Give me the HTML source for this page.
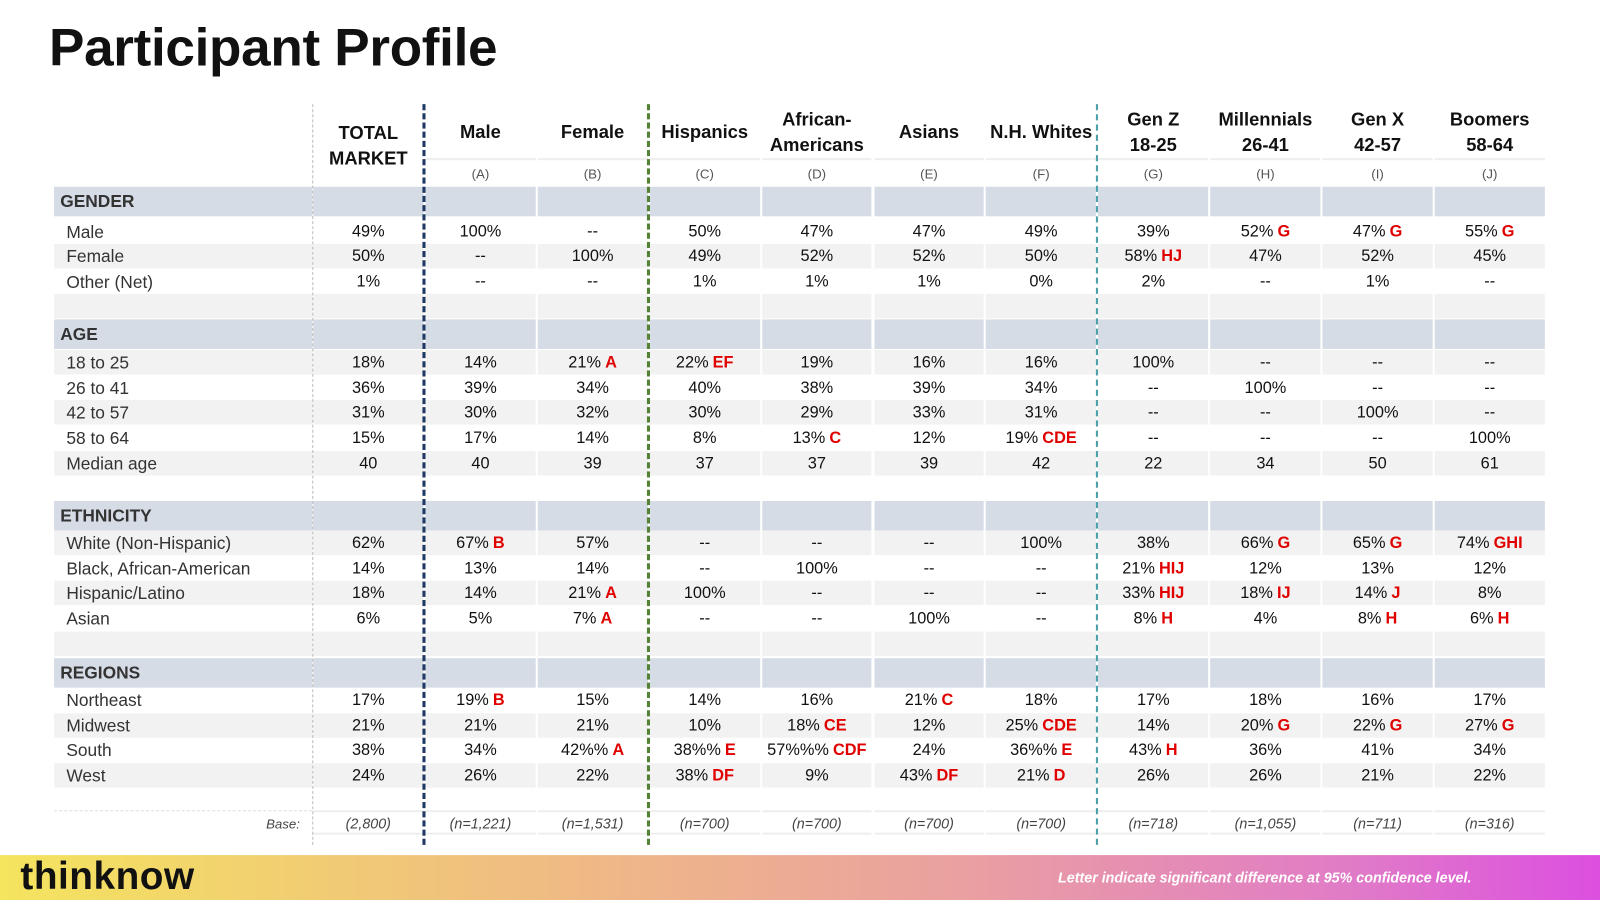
<!DOCTYPE html>
<html><head><meta charset="utf-8">
<style>
html,body{margin:0;padding:0;background:#fff;width:1600px;height:900px;overflow:hidden}
#wrap{position:absolute;left:0;top:0;width:1568px;height:882px;transform:scale(1.0204);transform-origin:0 0;font-family:"Liberation Sans",sans-serif;color:#111}
.c{position:absolute;display:flex;align-items:center;justify-content:center;font-size:16px;white-space:nowrap;box-sizing:border-box;padding-top:2px}
.sig{color:#e00000;font-weight:bold;margin-left:4px}
.vl{position:absolute;width:0}
</style></head><body>
<div id="wrap">
<div style="position:absolute;left:48px;top:17px;font-size:52px;font-weight:bold;letter-spacing:-0.3px">Participant Profile</div>
<div id="tbl"></div>
<div style="position:absolute;left:0;top:838px;width:1568px;height:44px;background:linear-gradient(90deg,#f4e45e 0%,#f0c07e 30%,#eaa0a0 60%,#e07ac8 85%,#dc4fe0 100%)">
<div style="position:absolute;left:20px;top:0px;font-size:38px;font-weight:bold;color:#111;letter-spacing:0.5px">thinknow</div>
<div style="position:absolute;right:126px;top:14px;font-size:14px;font-weight:bold;font-style:italic;color:#fff">Letter indicate significant difference at 95% confidence level.</div>
</div>
</div>
<script>
const colHeads=["TOTAL MARKET","Male","Female","Hispanics","African-Americans","Asians","N.H. Whites","Gen Z 18-25","Millennials 26-41","Gen X 42-57","Boomers 58-64"];
const colHeadHtml=["TOTAL<br>MARKET","Male","Female","Hispanics","African-<br>Americans","Asians","N.H. Whites","Gen Z<br>18-25","Millennials<br>26-41","Gen X<br>42-57","Boomers<br>58-64"];
const colLetters=["","(A)","(B)","(C)","(D)","(E)","(F)","(G)","(H)","(I)","(J)"];
const rows=[
["band","GENDER",null,197,0],
["row","Male",["49%","100%","--","50%","47%","47%","49%","39%","52%|G","47%|G","55%|G"],227,0],
["row","Female",["50%","--","100%","49%","52%","52%","50%","58%|HJ","47%","52%","45%"],251,1],
["row","Other (Net)",["1%","--","--","1%","1%","1%","0%","2%","--","1%","--"],276,0],
["blank","",null,300,1],
["band","AGE",null,327,0],
["row","18 to 25",["18%","14%","21%|A","22%|EF","19%","16%","16%","100%","--","--","--"],355,1],
["row","26 to 41",["36%","39%","34%","40%","38%","39%","34%","--","100%","--","--"],380,0],
["row","42 to 57",["31%","30%","32%","30%","29%","33%","31%","--","--","100%","--"],404,1],
["row","58 to 64",["15%","17%","14%","8%","13%|C","12%","19%|CDE","--","--","--","100%"],429,0],
["row","Median age",["40","40","39","37","37","39","42","22","34","50","61"],454,1],
["blank","",null,478,0],
["band","ETHNICITY",null,505,0],
["row","White (Non-Hispanic)",["62%","67%|B","57%","--","--","--","100%","38%","66%|G","65%|G","74%|GHI"],532,1],
["row","Black, African-American",["14%","13%","14%","--","100%","--","--","21%|HIJ","12%","13%","12%"],557,0],
["row","Hispanic/Latino",["18%","14%","21%|A","100%","--","--","--","33%|HIJ","18%|IJ","14%|J","8%"],581,1],
["row","Asian",["6%","5%","7%|A","--","--","100%","--","8%|H","4%","8%|H","6%|H"],606,0],
["blank","",null,631,1],
["band","REGIONS",null,659,0],
["row","Northeast",["17%","19%|B","15%","14%","16%","21%|C","18%","17%","18%","16%","17%"],686,0],
["row","Midwest",["21%","21%","21%","10%","18%|CE","12%","25%|CDE","14%","20%|G","22%|G","27%|G"],711,1],
["row","South",["38%","34%","42%%|A","38%%|E","57%%%|CDF","24%","36%%|E","43%|H","36%","41%","34%"],735,0],
["row","West",["24%","26%","22%","38%|DF","9%","43%|DF","21%|D","26%","26%","21%","22%"],760,1],
["blank","",null,784,0],
];
const bases=["(2,800)","(n=1,221)","(n=1,531)","(n=700)","(n=700)","(n=700)","(n=700)","(n=718)","(n=1,055)","(n=711)","(n=316)"];
const T=document.getElementById('tbl');
const L0=53,LW=253,CW=109.9,RH=24.6;
function colX(i){return L0+LW+i*CW;}
function mk(x,y,w,h,bg){const d=document.createElement('div');d.className='c';d.style.left=x+'px';d.style.top=y+'px';d.style.width=w+'px';d.style.height=h+'px';if(bg)d.style.background=bg;T.appendChild(d);return d;}
colHeads.forEach((h,i)=>{
 const d=mk(colX(i)+1,102,CW-2,i==0?80:53,null);
 
 
 d.style.fontWeight='bold';d.style.fontSize='18px';d.style.textAlign='center';d.style.lineHeight='25px';
 d.innerHTML=colHeadHtml[i];
 if(i>0){const l=mk(colX(i)+1,155,CW-2,27,null);
 
 
 l.style.fontSize='13px';l.style.color='#555';l.style.borderTop='2px solid #eee';l.textContent=colLetters[i];}
});
rows.forEach(r=>{
 const [type,label,vals,yc,gray]=r;
 const h=type=="band"?29:RH;const y=yc-h/2;
 const bg=type=="band"?"#d6dce5":(gray?"#f2f2f2":"#fff");
 const lab=mk(L0,y,LW,h,bg);
 
 
 lab.style.justifyContent='flex-start';lab.style.paddingLeft=(type=="band"?6:12)+'px';
 if(type=="band"){lab.style.fontWeight='bold';lab.style.fontSize='17px';}
 else lab.style.fontSize='17px';
 lab.style.color='#333';lab.textContent=label;
 for(let i=0;i<11;i++){
  const c=mk(colX(i)+1,y,CW-2,h,bg);
  
  
  if(vals){const [v,s]=vals[i].split('|');c.textContent=v;if(s){const sp=document.createElement('span');sp.className='sig';sp.textContent=s;c.appendChild(sp);}}
 }
});
const bl=mk(L0,794,LW,24,null);


bl.style.justifyContent='flex-end';bl.style.paddingRight='12px';bl.style.fontStyle='italic';bl.style.fontSize='13px';bl.style.color='#444';bl.textContent='Base:';
bl.style.borderTop='1px dashed #ddd';
bases.forEach((b,i)=>{const c=mk(colX(i)+1,794,CW-2,24,null);
 
 
 c.style.fontStyle='italic';c.style.fontSize='14px';c.style.color='#444';c.style.borderTop='2px solid #eee';c.style.borderBottom='2px solid #eee';c.textContent=b;});
const divs=[[0,'#bbb',1,102],[1,'#1f3864',3,102],[3,'#548235',3,102],[7,'#4aa0a8',2,102]];
divs.forEach(([i,col,w,top])=>{const v=document.createElement('div');v.className='vl';
 
 
 v.style.left=(colX(i)-w/2)+'px';v.style.top=top+'px';v.style.height=(828-top)+'px';v.style.borderLeft=w+'px dashed '+col;T.appendChild(v);});
</script>
</body></html>
